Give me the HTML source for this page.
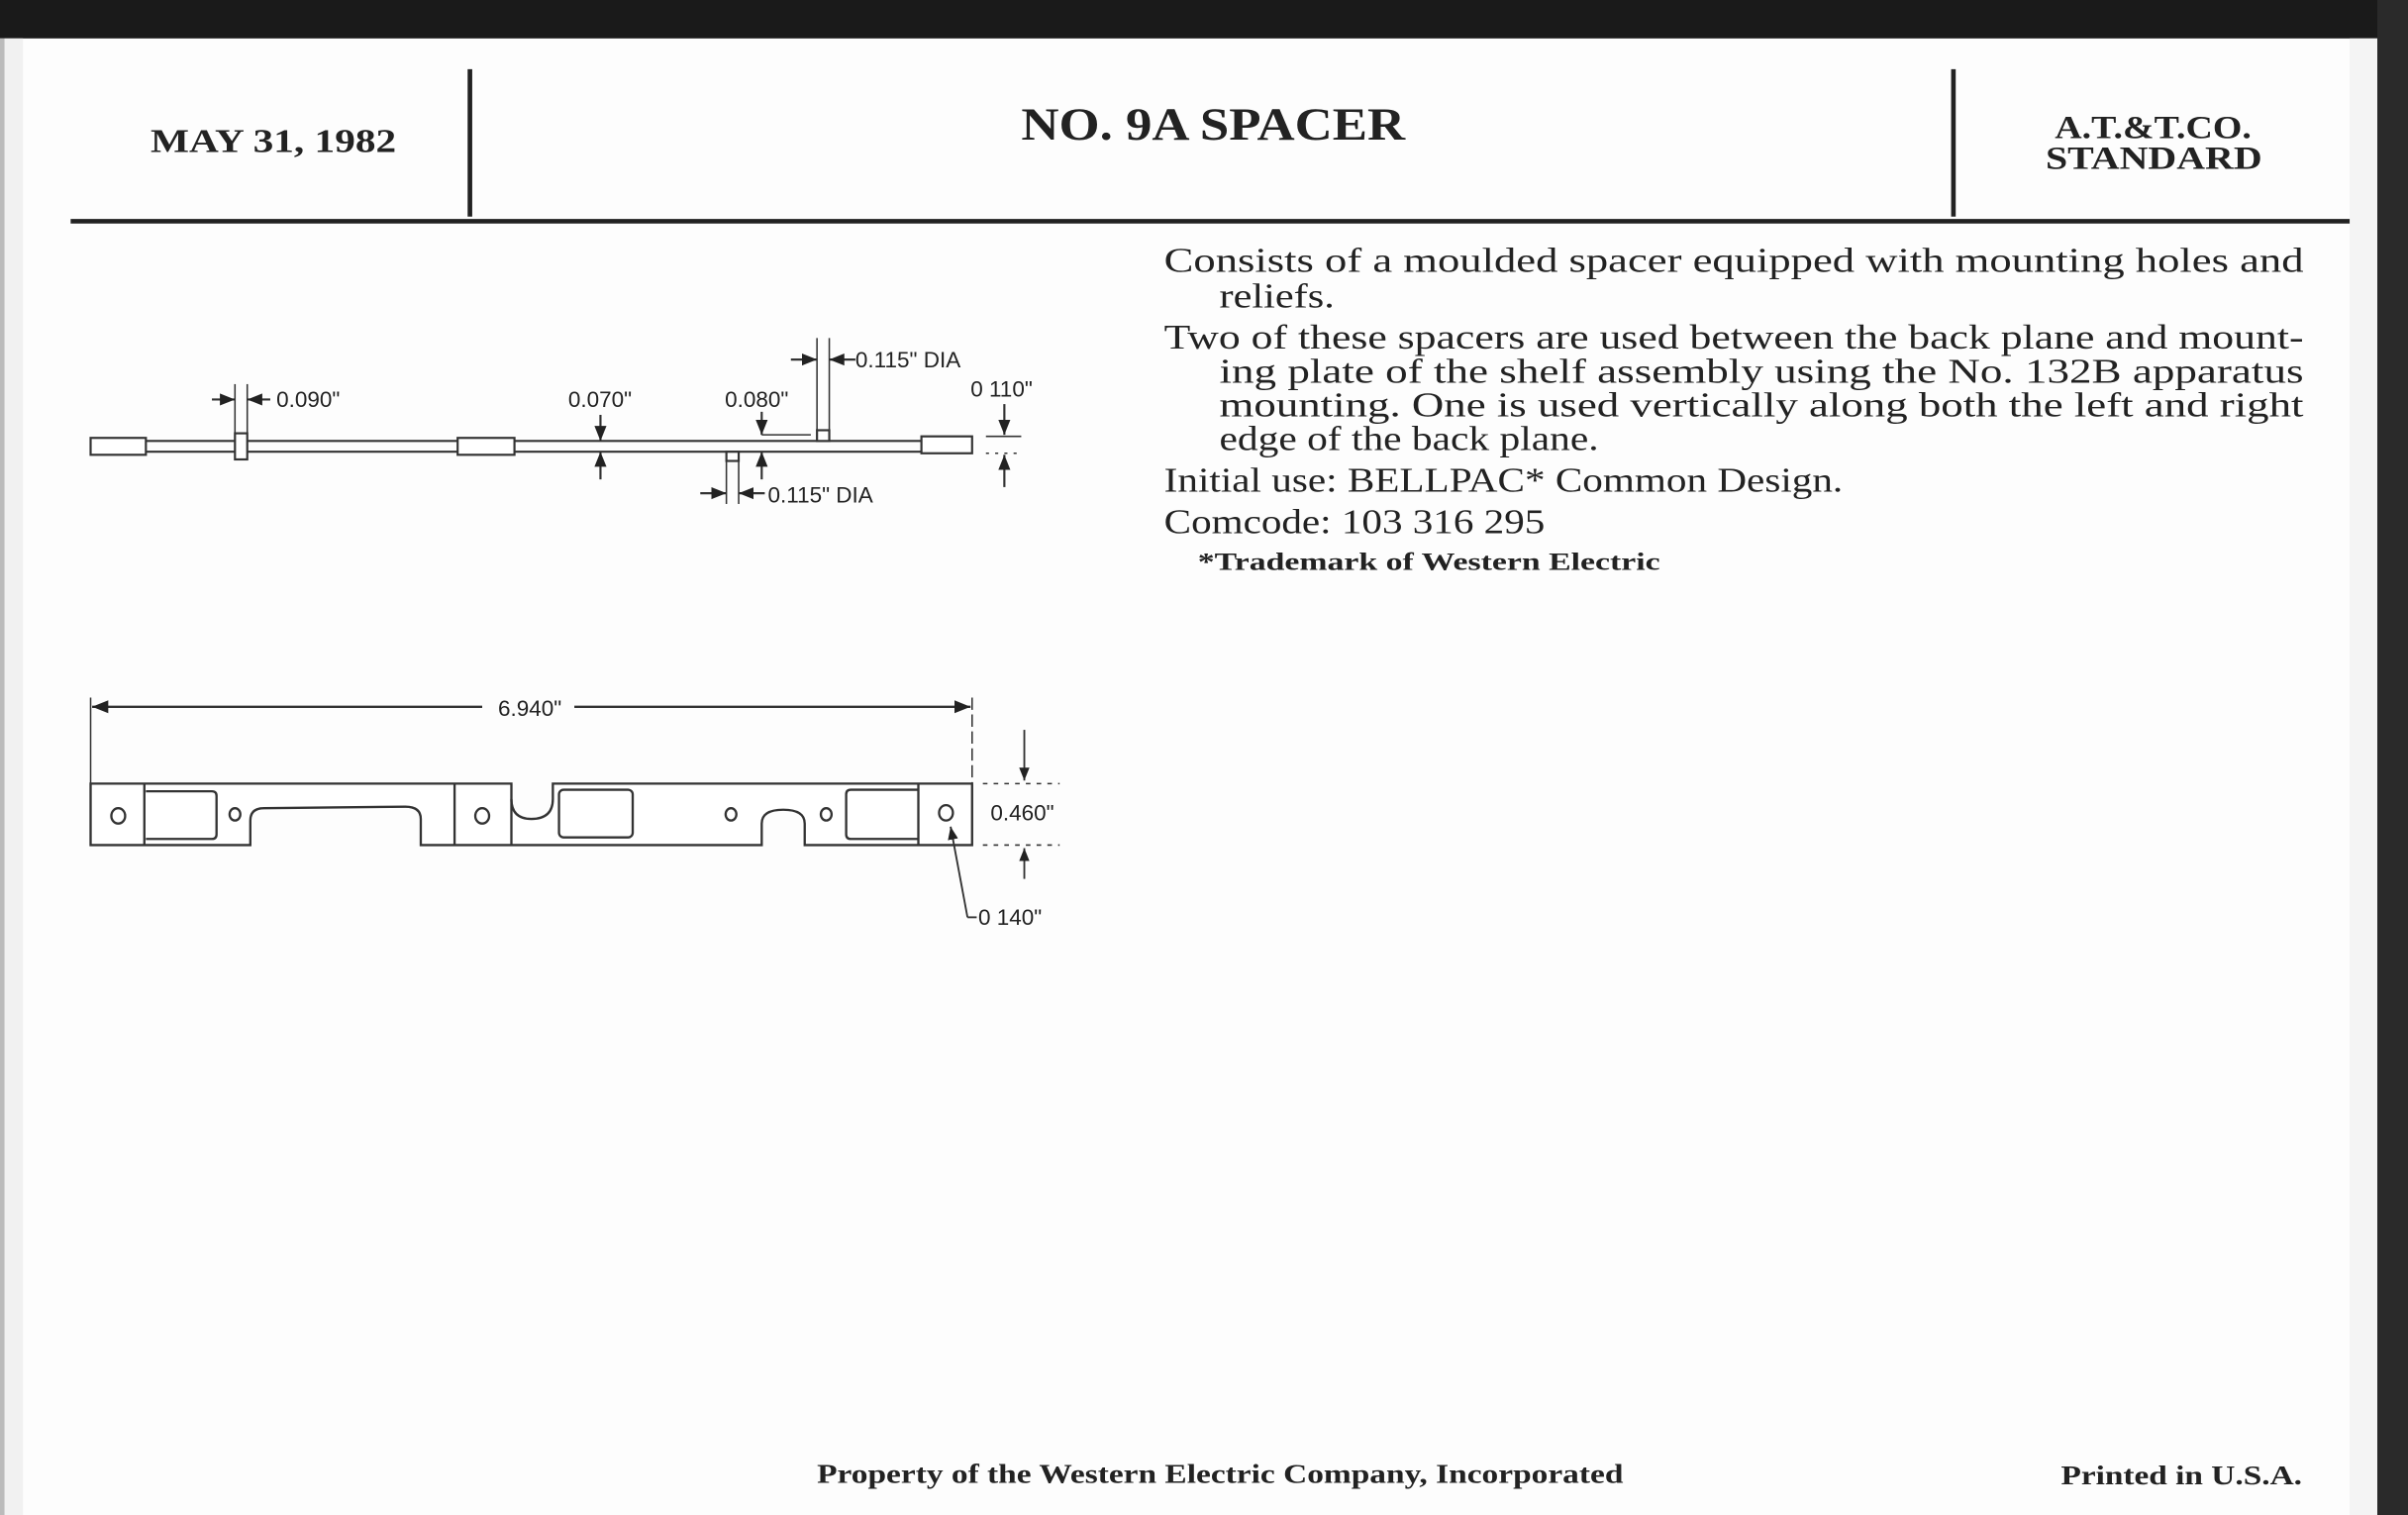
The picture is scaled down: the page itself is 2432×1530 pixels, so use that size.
<!DOCTYPE html>
<html><head><meta charset="utf-8"><style>
html,body{margin:0;padding:0;background:#fff;}
svg{display:block;}
.s{font-family:"Liberation Serif",serif;font-weight:bold;fill:#222;}
.r{font-family:"Liberation Serif",serif;fill:#222;}
.d{font-family:"Liberation Sans",sans-serif;fill:#222;font-size:14.5px;}
</style></head><body>
<svg width="2432" height="1530" viewBox="0 0 1568 986" preserveAspectRatio="none" xmlns="http://www.w3.org/2000/svg">
<rect x="0" y="0" width="1568" height="986" fill="#fdfdfd"/>
<rect x="0" y="0" width="1568" height="25" fill="#1a1a1a"/>
<rect x="1548" y="0" width="20" height="986" fill="#2a2a2a"/>
<rect x="1530" y="25" width="18" height="961" fill="#f4f4f4"/>
<rect x="0" y="25" width="3" height="961" fill="#bbb"/>
<rect x="3" y="25" width="12" height="961" fill="#f1f1f1"/>
<!-- header -->
<text class="s" x="98" y="99" font-size="22" textLength="160" lengthAdjust="spacingAndGlyphs">MAY 31, 1982</text>
<line x1="306" y1="45" x2="306" y2="141" stroke="#222" stroke-width="3"/>
<text class="s" x="665" y="91" font-size="30" textLength="250" lengthAdjust="spacingAndGlyphs">NO. 9A SPACER</text>
<line x1="1272" y1="45" x2="1272" y2="141" stroke="#222" stroke-width="3"/>
<text class="s" x="1338" y="90" font-size="21" textLength="128" lengthAdjust="spacingAndGlyphs">A.T.&amp;T.CO.</text>
<text class="s" x="1332" y="110" font-size="21" textLength="141" lengthAdjust="spacingAndGlyphs">STANDARD</text>
<line x1="46" y1="144" x2="1530" y2="144" stroke="#222" stroke-width="3"/>
<!-- body text -->
<g class="r" font-size="22.5">
<text x="758" y="177" textLength="742" lengthAdjust="spacingAndGlyphs">Consists of a moulded spacer equipped with mounting holes and</text>
<text x="794" y="200" textLength="75" lengthAdjust="spacingAndGlyphs">reliefs.</text>
<text x="758" y="227" textLength="742" lengthAdjust="spacingAndGlyphs">Two of these spacers are used between the back plane and mount-</text>
<text x="794" y="249" textLength="706" lengthAdjust="spacingAndGlyphs">ing plate of the shelf assembly using the No. 132B apparatus</text>
<text x="794" y="271" textLength="706" lengthAdjust="spacingAndGlyphs">mounting. One is used vertically along both the left and right</text>
<text x="794" y="293" textLength="247" lengthAdjust="spacingAndGlyphs">edge of the back plane.</text>
<text x="758" y="320" textLength="442" lengthAdjust="spacingAndGlyphs">Initial use: BELLPAC* Common Design.</text>
<text x="758" y="347" textLength="248" lengthAdjust="spacingAndGlyphs">Comcode: 103 316 295</text>
</g>
<text class="s" x="780" y="371" font-size="16" textLength="301" lengthAdjust="spacingAndGlyphs">*Trademark of Western Electric</text>
<!-- footer -->
<text class="s" x="532" y="965" font-size="18" textLength="525" lengthAdjust="spacingAndGlyphs">Property of the Western Electric Company, Incorporated</text>
<text class="s" x="1342" y="966" font-size="18" textLength="157" lengthAdjust="spacingAndGlyphs">Printed in U.S.A.</text>

<defs>
<marker id="a" viewBox="0 0 10 10" refX="10" refY="5" markerWidth="7" markerHeight="7" orient="auto-start-reverse"><path d="M0,1 L10,5 L0,9 z" fill="#222"/></marker>
</defs>
<!-- drawing 1 -->
<g stroke="#333" stroke-width="1.4" fill="none">
<rect x="59" y="285" width="36" height="11" fill="#fff"/>
<line x1="95" y1="287" x2="298" y2="287"/><line x1="95" y1="294" x2="298" y2="294"/>
<rect x="298" y="285" width="37" height="11" fill="#fff"/>
<line x1="335" y1="287" x2="600" y2="287"/><line x1="335" y1="294" x2="600" y2="294"/>
<rect x="600" y="284" width="33" height="11" fill="#fff"/>
<rect x="153" y="282" width="8" height="17" fill="#fff"/>
<rect x="532" y="280" width="8" height="7" fill="#fff"/>
<rect x="473" y="294" width="8" height="6" fill="#fff"/>
<line x1="153" y1="250" x2="153" y2="282" stroke-width="1"/><line x1="161" y1="250" x2="161" y2="282" stroke-width="1"/>
<line x1="138" y1="260" x2="153" y2="260" marker-end="url(#a)"/><line x1="176" y1="260" x2="161" y2="260" marker-end="url(#a)"/>
<line x1="391" y1="270" x2="391" y2="287" marker-end="url(#a)"/><line x1="391" y1="312" x2="391" y2="294" marker-end="url(#a)"/>
<polyline points="496,268 496,283" marker-end="url(#a)"/><line x1="496" y1="283" x2="528" y2="283" stroke-width="1"/>
<line x1="496" y1="312" x2="496" y2="294" marker-end="url(#a)"/>
<line x1="532" y1="220" x2="532" y2="280" stroke-width="1"/><line x1="540" y1="220" x2="540" y2="280" stroke-width="1"/>
<line x1="515" y1="234" x2="532" y2="234" marker-end="url(#a)"/><line x1="557" y1="234" x2="540" y2="234" marker-end="url(#a)"/>
<line x1="473" y1="300" x2="473" y2="328" stroke-width="1"/><line x1="481" y1="300" x2="481" y2="328" stroke-width="1"/>
<line x1="456" y1="321" x2="473" y2="321" marker-end="url(#a)"/><line x1="498" y1="321" x2="481" y2="321" marker-end="url(#a)"/>
<line x1="654" y1="263" x2="654" y2="283" marker-end="url(#a)"/><line x1="642" y1="284" x2="665" y2="284" stroke-width="1"/>
<line x1="642" y1="295" x2="665" y2="295" stroke-width="1" stroke-dasharray="2,4"/>
<line x1="654" y1="317" x2="654" y2="296" marker-end="url(#a)"/>
</g>
<g class="d">
<text x="180" y="265">0.090"</text>
<text x="370" y="265">0.070"</text>
<text x="472" y="265">0.080"</text>
<text x="557" y="239">0.115" DIA</text>
<text x="500" y="327">0.115" DIA</text>
<text x="632" y="258">0 110"</text>
</g>
<!-- drawing 2 -->
<g stroke="#333" stroke-width="1.5" fill="none">
<line x1="59" y1="454" x2="59" y2="510" stroke-width="1"/>
<line x1="633" y1="454" x2="633" y2="510" stroke-width="1" stroke-dasharray="8,3"/>
<line x1="60" y1="460" x2="314" y2="460" marker-start="url(#a)"/>
<line x1="374" y1="460" x2="632" y2="460" marker-end="url(#a)"/>
<path d="M59,510 L333,510 L333,520 Q333,533 346,533 Q360,533 360,520 L360,510 L633,510 L633,550 L524,550 L524,536 Q524,527 510,527 Q496,527 496,536 L496,550 L274,550 L274,533 Q274,525 264,525 L172,526 Q163,526 163,534 L163,550 L59,550 Z" fill="#fff"/>
<line x1="94" y1="510" x2="94" y2="550"/><line x1="296" y1="510" x2="296" y2="550"/><line x1="333" y1="520" x2="333" y2="550"/><line x1="598" y1="510" x2="598" y2="550"/>
<path d="M95,515 L138,515 Q141,515 141,518 L141,543 Q141,546 138,546 L95,546"/>
<rect x="364" y="514" width="48" height="31" rx="3"/>
<path d="M598,514 L554,514 Q551,514 551,517 L551,543 Q551,546 554,546 L598,546"/>
<ellipse cx="77" cy="531" rx="4.5" ry="5"/>
<ellipse cx="153" cy="530" rx="3.5" ry="4"/>
<ellipse cx="314" cy="531" rx="4.5" ry="5"/>
<ellipse cx="476" cy="530" rx="3.5" ry="4"/>
<ellipse cx="538" cy="530" rx="3.5" ry="4"/>
<ellipse cx="616" cy="529" rx="4.5" ry="5"/>
<line x1="667" y1="475" x2="667" y2="508" stroke-width="1.2" marker-end="url(#a)"/>
<line x1="640" y1="510" x2="690" y2="510" stroke-width="1" stroke-dasharray="3,4"/>
<line x1="640" y1="550" x2="690" y2="550" stroke-width="1" stroke-dasharray="3,4"/>
<line x1="667" y1="572" x2="667" y2="552" stroke-width="1.2" marker-end="url(#a)"/>
<polyline points="630,597 619,538" stroke-width="1.2" marker-end="url(#a)"/>
<line x1="630" y1="597" x2="636" y2="597" stroke-width="1.2"/>
</g>
<g class="d">
<text x="345" y="466" text-anchor="middle">6.940"</text>
<text x="645" y="534">0.460"</text>
<text x="637" y="602">0 140"</text>
</g>
</svg>
</body></html>
